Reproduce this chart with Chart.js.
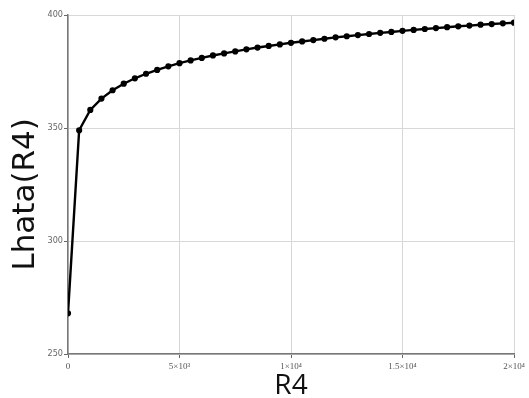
<!DOCTYPE html>
<html>
<head>
<meta charset="utf-8">
<script src="https://cdn.jsdelivr.net/npm/chart.js@4"></script>
<style>
  html, body { margin: 0; padding: 0; background: #fff; }
  #wrap { width: 529px; height: 398px; }
</style>
</head>
<body>
<div id="wrap"><canvas id="chart" width="529" height="398"></canvas></div>
<script>
// R4 values (step of 500) and the Lhata(R4)
const r4 = [0, 500, 1000, 1500, 2000, 2500, 3000, 3500, 4000, 4500,
  5000, 5500, 6000, 6500, 7000, 7500, 8000, 8500, 9000, 9500,
  10000, 10500, 11000, 11500, 12000, 12500, 13000, 13500, 14000, 14500,
  15000, 15500, 16000, 16500, 17000, 17500, 18000, 18500, 19000, 19500, 20000];
const lhata = [268, 349, 358, 363, 366.7, 369.6, 372, 374, 375.7, 377.3,
  378.7, 379.9, 381.0, 382.1, 383.0, 383.9, 384.8, 385.6, 386.3, 387.0,
  387.7, 388.3, 388.9, 389.5, 390.1, 390.6, 391.1, 391.6, 392.1, 392.5,
  393.0, 393.4, 393.8, 394.2, 394.6, 395.0, 395.3, 395.7, 396.0, 396.3, 396.6];

const xTickValues = [0, 5000, 10000, 15000, 20000];
const xTickLabels = ['0', '5×10³', '1×10⁴', '1.5×10⁴', '2×10⁴'];
const yTickValues = [250, 300, 350, 400];

const points = r4.map((x, i) => ({ x, y: lhata[i] }));

new Chart(document.getElementById('chart').getContext('2d'), {
  type: 'line',
  data: {
    datasets: [{
      data: points,
      borderColor: '#000',
      backgroundColor: '#000',
      borderWidth: 2.4,
      pointRadius: 1.9,
      pointHoverRadius: 1.9,
      tension: 0
    }]
  },
  options: {
    responsive: false,
    animation: false,
    layout: { padding: { top: 15, right: 15, left: 0, bottom: 0 } },
    plugins: { legend: { display: false }, tooltip: { enabled: false } },
    scales: {
      x: {
        type: 'linear',
        min: 0,
        max: 20000,
        afterFit: s => { s.height = 44; },
        afterBuildTicks: s => { s.ticks = xTickValues.map(v => ({ value: v })); },
        ticks: {
          color: '#555',
          font: { family: 'Liberation Serif', size: 9 },
          padding: 3,
          maxRotation: 0,
          callback: v => xTickLabels[xTickValues.indexOf(v)]
        },
        grid: { color: '#d8d8d8', lineWidth: 1, tickLength: 4, tickColor: '#666' },
        border: { color: '#777', width: 1.5 },
        title: {
          display: true,
          text: 'R4',
          color: '#111',
          font: { family: 'Open Sans', size: 28, lineHeight: 1 },
          padding: { top: 0, bottom: -2 }
        }
      },
      y: {
        min: 250,
        max: 400,
        afterFit: s => { s.width = 68; },
        afterBuildTicks: s => { s.ticks = yTickValues.map(v => ({ value: v })); },
        ticks: {
          color: '#666',
          font: { family: 'DejaVu Sans Condensed', size: 9 },
          padding: 1
        },
        grid: { color: '#d8d8d8', lineWidth: 1, tickLength: 4, tickColor: '#666' },
        border: { color: '#777', width: 1.5 },
        title: {
          display: true,
          text: 'Lhata(R4)  ',
          color: '#111',
          font: { family: 'DejaVu Sans', size: 31, lineHeight: 1 },
          padding: { top: 10, bottom: 0 }
        }
      }
    }
  }
});
</script>
</body>
</html>
